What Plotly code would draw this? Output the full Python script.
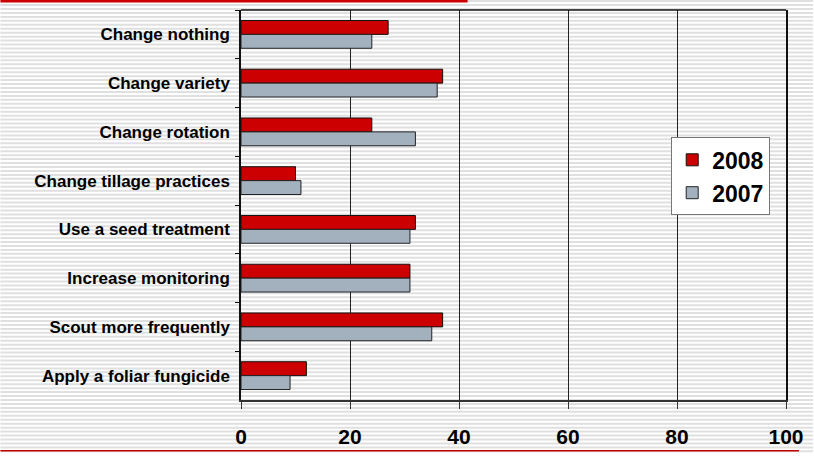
import plotly.graph_objects as go

categories = [
    "Change nothing",
    "Change variety",
    "Change rotation",
    "Change tillage practices",
    "Use a seed treatment",
    "Increase monitoring",
    "Scout more frequently",
    "Apply a foliar fungicide",
]
values_2008 = [27, 37, 24, 10, 32, 31, 37, 12]
values_2007 = [24, 36, 32, 11, 31, 31, 35, 9]
x_ticks = [0, 20, 40, 60, 80, 100]

W, H = 814, 458
L, R, T, B = 241, 787, 10, 405
PW, PH = R - L, B - T


def px(xp):
    return (xp - L) / PW


def py(yp):
    return (B - yp) / PH


FONT = "Liberation Sans, Arial, sans-serif"

fig = go.Figure()
fig.add_trace(go.Bar(
    name="2008", y=categories, x=values_2008, orientation="h",
    marker=dict(color="#cc0000", line=dict(color="#111111", width=1)),
))
fig.add_trace(go.Bar(
    name="2007", y=categories, x=values_2007, orientation="h",
    marker=dict(color="#a3b1bf", line=dict(color="#222222", width=1)),
))

# striped background
segs = []
for yp in range(1, H + 2, 4):
    segs.append(f"M{px(0):.5f},{py(yp):.5f} L{px(W):.5f},{py(yp):.5f}")
shapes = [
    dict(type="path", path=" ".join(segs), xref="paper", yref="paper",
         line=dict(color="#e0e0e0", width=2), layer="below"),
    # top border of plot area
    dict(type="line", xref="paper", yref="paper", x0=0, x1=1, y0=1, y1=1,
         line=dict(color="#111111", width=1.5), layer="above"),
    # red decoration lines
    dict(type="line", xref="paper", yref="paper", x0=px(0), x1=px(468),
         y0=py(1), y1=py(1), line=dict(color="#cc0000", width=3), layer="above"),
    dict(type="line", xref="paper", yref="paper", x0=px(0), x1=px(800),
         y0=py(456.5), y1=py(456.5), line=dict(color="#c00000", width=1.5), layer="above"),
]

fig.update_layout(
    width=W, height=H,
    margin=dict(l=L, r=W - R, t=T, b=H - B, pad=0),
    paper_bgcolor="#ffffff",
    plot_bgcolor="rgba(0,0,0,0)",
    barmode="group",
    bargap=0.43,
    bargroupgap=0,
    font=dict(family=FONT, color="#000000"),
    shapes=shapes,
    showlegend=True,
    legend=dict(
        x=px(672), y=py(139), xanchor="left", yanchor="top",
        bgcolor="#ffffff", bordercolor="#777777", borderwidth=1,
        font=dict(family=FONT, size=23, weight="bold", color="#000000"),
        tracegroupgap=0, itemwidth=30,
    ),
    xaxis=dict(
        range=[0, 100], tickvals=x_ticks, ticktext=[str(v) for v in x_ticks],
        showgrid=True, gridcolor="#222222", gridwidth=1,
        showline=True, linecolor="#333333", linewidth=2,
        ticks="outside", ticklen=7, tickcolor="#333333", tickwidth=1,
        tickfont=dict(family=FONT, size=21, weight="bold"),
        ticklabelstandoff=10,
        zeroline=False, fixedrange=True,
    ),
    yaxis=dict(
        type="category", autorange="reversed",
        showline=True, linecolor="#111111", linewidth=1.5, mirror=True,
        ticks="outside", ticklen=4, tickcolor="#111111", tickson="boundaries",
        tickfont=dict(family=FONT, size=17, weight="bold"),
        ticklabelstandoff=6,
        showgrid=False, fixedrange=True,
    ),
)

fig.write_html(
    "out.html",
    config={"displayModeBar": False},
    post_script="document.body.style.margin='0';document.body.style.overflow='hidden';",
)
